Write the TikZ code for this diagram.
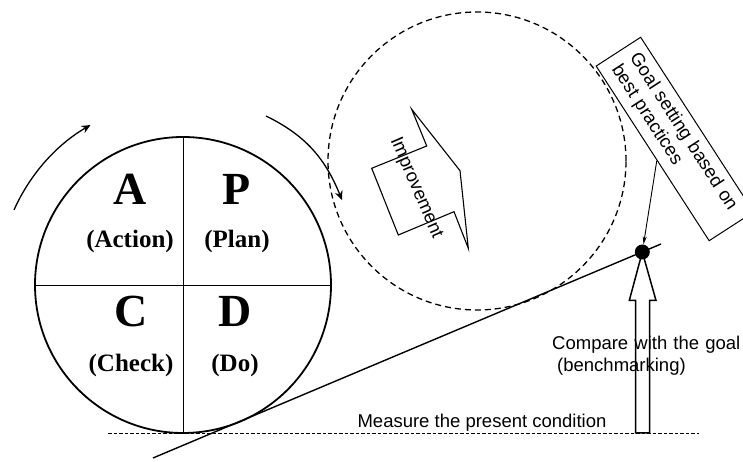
\documentclass[tikz,border=0pt]{standalone}
\usepackage{fontspec}
\setmainfont{Liberation Serif}
\setsansfont{Liberation Sans}
\usetikzlibrary{arrows.meta,calc}
\definecolor{pdcaInk}{HTML}{000000}
\tikzset{
  pdca rim/.style={circle, draw=pdcaInk, line width=1.8pt, minimum size=296pt, inner sep=0pt},
  pdca cross/.style={draw=pdcaInk, line width=0.9pt},
  pdca letter/.style={font=\fontsize{46}{46}\selectfont\bfseries, text=pdcaInk, anchor=base},
  pdca word/.style={font=\fontsize{25}{25}\selectfont\bfseries, text=pdcaInk, anchor=base},
  pdca note/.style={font=\sffamily\fontsize{18.5}{21.5}\selectfont, text=pdcaInk},
  pdca turn/.style={draw=pdcaInk, line width=1.3pt, -{Stealth[length=9pt, width=8pt, inset=3pt]}},
  pdca dashed/.style={draw=pdcaInk, line width=1.3pt, dash pattern=on 6pt off 4pt},
  pdca base/.style={draw=pdcaInk, line width=0.8pt, dash pattern=on 3.5pt off 2pt},
  pdca slope/.style={draw=pdcaInk, line width=1.4pt},
  pdca flow/.style={draw=pdcaInk, fill=white, line width=1.5pt, line join=miter},
}

\begin{document}
\begin{tikzpicture}[x=1pt,y=1pt]
  \useasboundingbox (0,0) rectangle (743,462);
  \clip (0,0) rectangle (743,462);

  % PDCA wheel
  \node[pdca rim] (wheel) at (183,177) {};
  \draw[pdca cross] (wheel.north) -- (wheel.south);
  \draw[pdca cross] (wheel.west) -- (wheel.east);
  \node[pdca letter] (lA) at (130,257) {A};
  \node[pdca letter] (lP) at (237,257) {P};
  \node[pdca letter] (lC) at (131,135) {C};
  \node[pdca letter] (lD) at (235,135) {D};
  \node[pdca word] (wA) at (130,214) {(Action)};
  \node[pdca word] (wP) at (237,214) {(Plan)};
  \node[pdca word] (wC) at (131,90) {(Check)};
  \node[pdca word] (wD) at (235,90) {(Do)};

  % turning arrows
  \coordinate (turn a) at (14,252);
  \coordinate (turn c) at (266,346);
  \coordinate (turn d) at (342,262);
  \draw[pdca turn] (turn a) arc[start angle=156, end angle=120, radius=185];
  \draw[pdca turn] (turn c) to[out=-26, in=112] (turn d);

  % improvement circle
  \node[circle, pdca dashed, minimum size=298pt, inner sep=0pt] (trend) at (477,301) {};
  \draw[pdca cross, line width=1.1pt, line join=miter]
    (411.7,352.7) -- (426.7,316) -- (371.7,293.7) -- (398.3,227)
    -- (454,250.3) -- (468.3,213.7) -- (460,291.3) -- cycle;
  \node[pdca note, rotate=-66.6] (gain) at (416,274) {Improvement};

  % slope and present level
  \coordinate (slope a) at (153,4);
  \coordinate (slope b) at (661,218);
  \draw[pdca slope] (slope a) -- (slope b);
  \coordinate (base a) at (108,29);
  \coordinate (base b) at (699,29);
  \draw[pdca base] (base a) -- (base b);
  \node[pdca note, anchor=base] (measure) at (482,34) {Measure the present condition};

  % benchmarking arrow
  \coordinate (bench) at (642.3,210);
  \draw[pdca flow] (635.7,29) -- (635.7,161.5) -- (629.3,161.5) -- (bench)
    -- (656,161.5) -- (649.7,161.5) -- (649.7,29) -- cycle;
  \node[circle, fill=pdcaInk, minimum size=15pt, inner sep=0pt] (goal dot) at (bench) {};
  \node[pdca note, anchor=base west, inner sep=0pt, text width=190pt, align=left] (compare)
    at (552,112) {Compare with the goal\\\hspace*{5pt}(benchmarking)};

  % goal box
  \node[pdca note, draw=pdcaInk, line width=1pt, rotate=-57.1, minimum width=208pt,
    minimum height=53pt, text width=186pt, inner xsep=11pt, align=left]
    (goal) at (674.9,323) {Goal setting based on\\best practices};
  \draw[pdca cross, -{Stealth[length=8pt, width=4pt]}]
    ($(goal.south)!0.08!(goal.south east)$) -- (goal dot);
\end{tikzpicture}
\end{document}
